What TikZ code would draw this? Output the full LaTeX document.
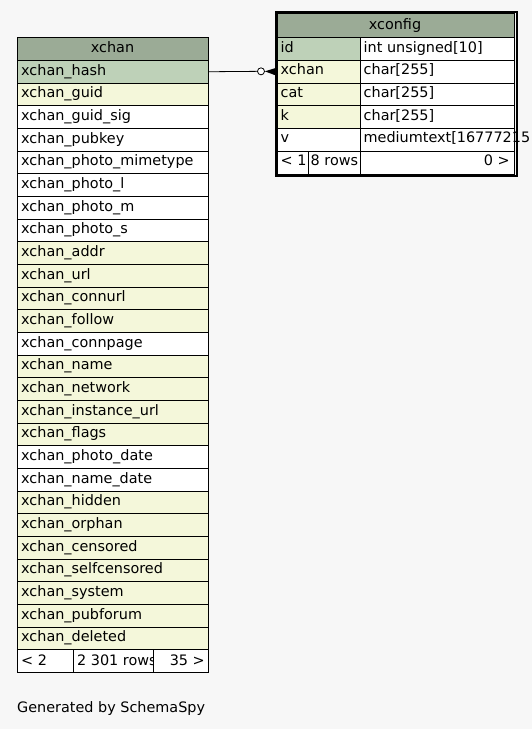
\documentclass[tikz,border=0pt]{standalone}
\usepackage{fontspec}
\setmainfont{DejaVu Sans}
\definecolor{bg}{HTML}{F7F7F7}
\definecolor{hdr}{HTML}{9BAB96}
\definecolor{keyc}{HTML}{BED1B8}
\definecolor{idx}{HTML}{F4F7DA}
\begin{document}
\begin{tikzpicture}[x=1pt,y=-1pt,
  font=\fontsize{14.4}{17}\selectfont,
  cell/.style={draw=black,line width=0.8pt,anchor=north west,inner sep=0pt,minimum height=22.67pt},
  txt/.style={anchor=base west,inner sep=0pt},
  rtxt/.style={anchor=base east,inner sep=0pt},
  ctxt/.style={anchor=base,inner sep=0pt}]
\fill[bg] (0,0) rectangle (532,729);
\useasboundingbox (0,0) rectangle (532,729);

% ---------- xchan table ----------
\node[cell,fill=hdr,minimum width=191pt,minimum height=23.5pt] (xh) at (17,36.5) {};
\node[ctxt] (xht) at (112.5,52) {xchan};
\foreach \i/\n/\c in {
  1/xchan\_hash/keyc, 2/xchan\_guid/idx, 3/xchan\_guid\_sig/white,
  4/xchan\_pubkey/white, 5/xchan\_photo\_mimetype/white, 6/xchan\_photo\_l/white,
  7/xchan\_photo\_m/white, 8/xchan\_photo\_s/white, 9/xchan\_addr/idx,
  10/xchan\_url/idx, 11/xchan\_connurl/idx, 12/xchan\_follow/idx,
  13/xchan\_connpage/white, 14/xchan\_name/idx, 15/xchan\_network/idx,
  16/xchan\_instance\_url/idx, 17/xchan\_flags/idx, 18/xchan\_photo\_date/white,
  19/xchan\_name\_date/white, 20/xchan\_hidden/idx, 21/xchan\_orphan/idx,
  22/xchan\_censored/idx, 23/xchan\_selfcensored/idx, 24/xchan\_system/idx,
  25/xchan\_pubforum/idx, 26/xchan\_deleted/idx}{
  \node[cell,fill=\c,minimum width=191pt] (xc\i) at (17,{60+(\i-1)*22.67}) {};
  \node[txt] (xt\i) at (21,{60+(\i-1)*22.67+15}) {\n};
}
% footer
\node[cell,fill=white,minimum width=56pt,minimum height=23pt] (xf1) at (17,649.4) {};
\node[cell,fill=white,minimum width=80pt,minimum height=23pt] (xf2) at (73,649.4) {};
\node[cell,fill=white,minimum width=55pt,minimum height=23pt] (xf3) at (153,649.4) {};
\node[txt] (xft1) at (21,665) {< 2};
\begin{scope}
  \clip (73,649.4) rectangle (152.6,672.4);
  \node[txt] (xft2) at (77,665) {2 301 rows};
\end{scope}
\node[rtxt] (xft3) at (205,665) {35 >};

% ---------- xconfig table ----------
\node[draw=black,line width=2pt,anchor=north west,inner sep=0pt,
      minimum width=241pt,minimum height=164pt] (xcfg) at (274.5,11.3) {};
\node[cell,fill=hdr,minimum width=237pt,minimum height=24.8pt] (ch) at (276.5,12.5) {};
\node[ctxt] (cht) at (395,29.7) {xconfig};
\foreach \i/\n/\t/\c in {
  1/id/int unsigned[10]/keyc, 2/xchan/char[255]/idx, 3/cat/char[255]/idx,
  4/k/char[255]/idx, 5/v/mediumtext[16777215/white}{
  \node[cell,fill=\c,minimum width=83pt] (cl\i) at (276.5,{37.3+(\i-1)*22.7}) {};
  \node[cell,fill=white,minimum width=154pt] (cr\i) at (359.5,{37.3+(\i-1)*22.7}) {};
  \node[txt] (clt\i) at (280.5,{37.3+(\i-1)*22.7+14.7}) {\n};
  \node[txt] (crt\i) at (363.5,{37.3+(\i-1)*22.7+14.7}) {\t};
}
\node[cell,fill=white,minimum width=31pt,minimum height=22.7pt] (cf1) at (276.5,150.8) {};
\node[cell,fill=white,minimum width=52pt,minimum height=22.7pt] (cf2) at (307.5,150.8) {};
\node[cell,fill=white,minimum width=154pt,minimum height=22.7pt] (cf3) at (359.5,150.8) {};
\node[txt] (cft1) at (280.5,165.5) {< 1};
\node[txt] (cft2) at (310.5,165.5) {8 rows};
\node[rtxt] (cft3) at (510,165.5) {0 >};

% ---------- connector ----------
\node[circle,draw=black,line width=0.8pt,fill=white,minimum size=7pt,inner sep=0pt] (oc) at (261,71.33) {};
\draw[line width=0.8pt] (xc1.east) -- (oc.west);
\fill[black] (oc.east) -- ([yshift=-4pt]cl2.west) -- ([yshift=4pt]cl2.west) -- cycle;

% ---------- caption ----------
\node[txt] (gen) at (17,712) {Generated by SchemaSpy};
\end{tikzpicture}
\end{document}
